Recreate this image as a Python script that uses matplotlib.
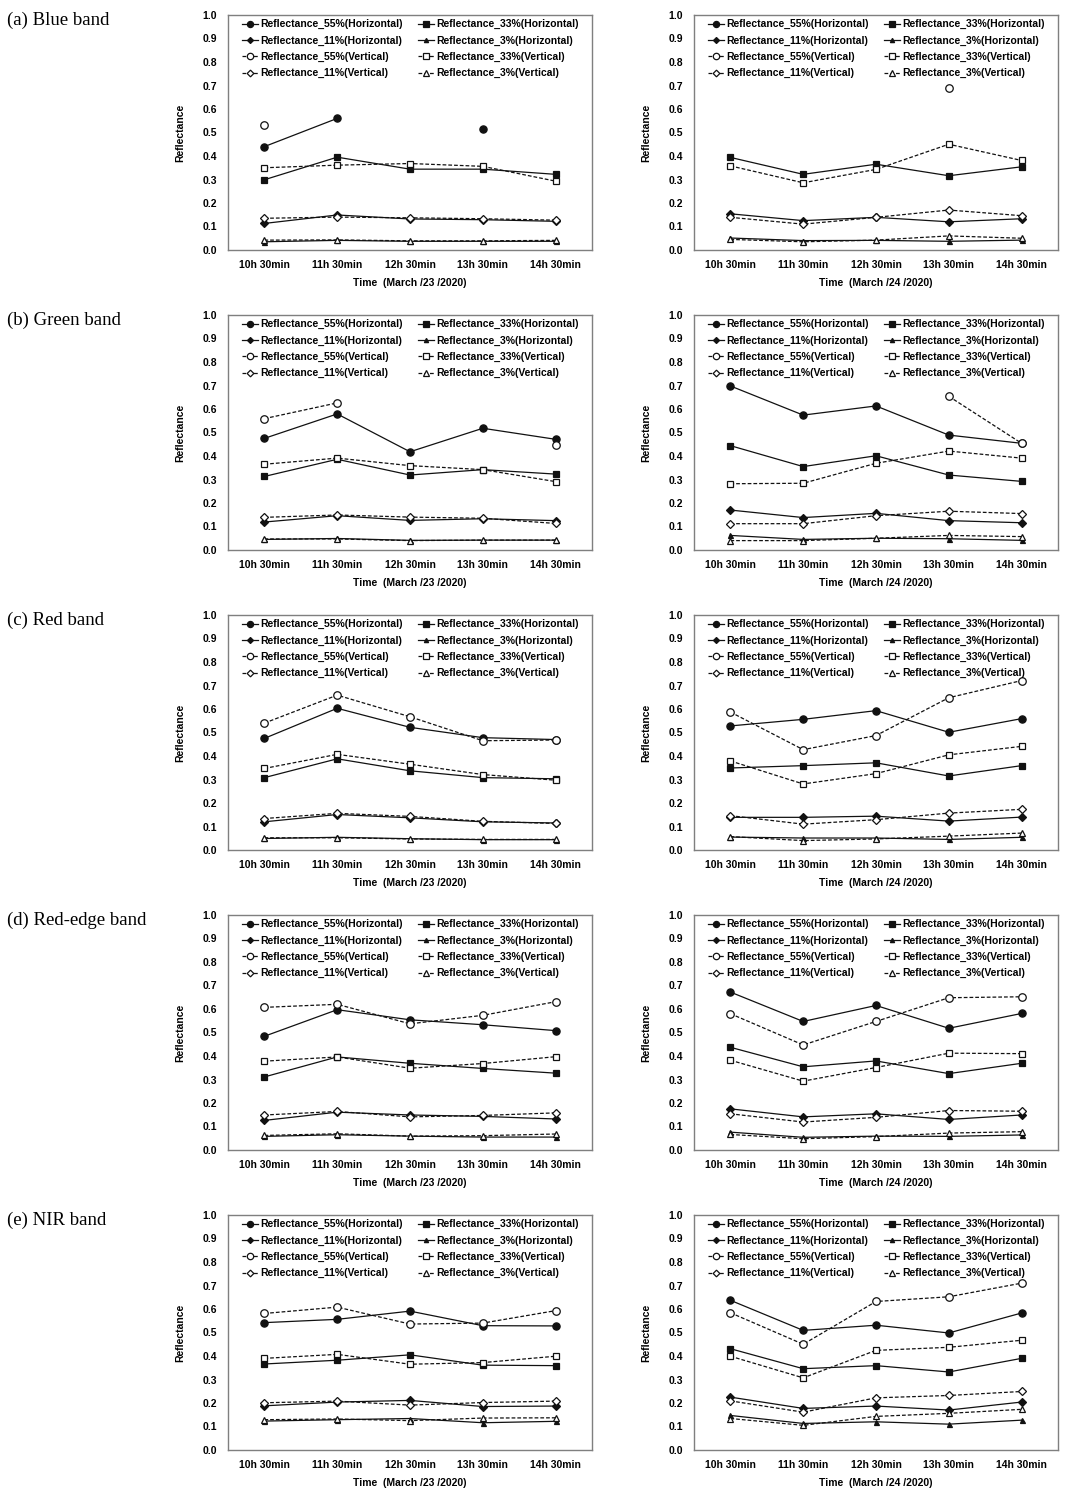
import numpy as np
import matplotlib
matplotlib.use('Agg')
import matplotlib.pyplot as plt

nan = np.nan
W, H = 1068, 1496

times = ['10h 30min', '11h 30min', '12h 30min', '13h 30min', '14h 30min']
date_labels = ['Time  (March /23 /2020)', 'Time  (March /24 /2020)']
band_labels = ['(a) Blue band', '(b) Green band', '(c) Red band',
               '(d) Red-edge band', '(e) NIR band']
series = ['Reflectance_55%(Horizontal)', 'Reflectance_33%(Horizontal)',
          'Reflectance_11%(Horizontal)', 'Reflectance_3%(Horizontal)',
          'Reflectance_55%(Vertical)', 'Reflectance_33%(Vertical)',
          'Reflectance_11%(Vertical)', 'Reflectance_3%(Vertical)']

# row order: 55H, 33H, 11H, 3H, 55V, 33V, 11V, 3V   (nan = no measurement)
blue_0323 = [
    [0.440, 0.560, nan, 0.514, nan],
    [0.299, 0.395, 0.344, 0.344, 0.322],
    [0.113, 0.149, 0.132, 0.129, 0.122],
    [0.035, 0.041, 0.037, 0.037, 0.037],
    [0.533, nan, nan, nan, nan],
    [0.350, 0.361, 0.368, 0.356, 0.293],
    [0.135, 0.140, 0.137, 0.133, 0.127],
    [0.042, 0.043, 0.039, 0.039, 0.041],
]
blue_0324 = [
    [nan, nan, nan, nan, nan],
    [0.394, 0.322, 0.365, 0.316, 0.354],
    [0.154, 0.125, 0.139, 0.120, 0.133],
    [0.051, 0.040, 0.041, 0.037, 0.042],
    [nan, nan, nan, 0.691, nan],
    [0.358, 0.286, 0.343, 0.450, 0.381],
    [0.139, 0.110, 0.139, 0.170, 0.146],
    [0.045, 0.035, 0.042, 0.060, 0.050],
]
green_0323 = [
    [0.475, 0.579, 0.418, 0.518, 0.471],
    [0.313, 0.386, 0.319, 0.342, 0.323],
    [0.119, 0.146, 0.126, 0.133, 0.125],
    [0.045, 0.049, 0.041, 0.042, 0.042],
    [0.559, 0.626, nan, nan, 0.445],
    [0.365, 0.391, 0.359, 0.342, 0.291],
    [0.139, 0.149, 0.140, 0.135, 0.113],
    [0.047, 0.047, 0.040, 0.042, 0.042],
]
green_0324 = [
    [0.698, 0.574, 0.613, 0.489, 0.454],
    [0.444, 0.355, 0.401, 0.319, 0.292],
    [0.170, 0.138, 0.156, 0.125, 0.116],
    [0.062, 0.045, 0.050, 0.048, 0.041],
    [nan, nan, nan, 0.654, 0.454],
    [0.282, 0.284, 0.369, 0.421, 0.391],
    [0.112, 0.112, 0.146, 0.165, 0.155],
    [0.040, 0.040, 0.050, 0.062, 0.057],
]
red_0323 = [
    [0.475, 0.603, 0.522, 0.478, 0.470],
    [0.308, 0.388, 0.337, 0.308, 0.303],
    [0.120, 0.151, 0.137, 0.120, 0.115],
    [0.049, 0.054, 0.048, 0.044, 0.044],
    [0.540, 0.659, 0.567, 0.465, 0.468],
    [0.347, 0.407, 0.365, 0.321, 0.297],
    [0.134, 0.156, 0.143, 0.122, 0.113],
    [0.052, 0.052, 0.047, 0.045, 0.045],
]
red_0324 = [
    [0.528, 0.556, 0.593, 0.501, 0.559],
    [0.349, 0.359, 0.371, 0.315, 0.359],
    [0.139, 0.139, 0.144, 0.123, 0.140],
    [0.055, 0.051, 0.051, 0.045, 0.054],
    [0.587, 0.427, 0.487, 0.648, 0.721],
    [0.379, 0.281, 0.325, 0.405, 0.441],
    [0.146, 0.110, 0.129, 0.157, 0.173],
    [0.057, 0.040, 0.047, 0.059, 0.072],
]
rededge_0323 = [
    [0.484, 0.597, 0.554, 0.533, 0.508],
    [0.311, 0.396, 0.369, 0.347, 0.327],
    [0.126, 0.161, 0.149, 0.143, 0.132],
    [0.058, 0.065, 0.059, 0.055, 0.055],
    [0.607, 0.620, 0.537, 0.573, 0.631],
    [0.378, 0.396, 0.348, 0.368, 0.397],
    [0.149, 0.164, 0.141, 0.147, 0.158],
    [0.062, 0.069, 0.059, 0.061, 0.068],
]
rededge_0324 = [
    [0.672, 0.547, 0.615, 0.518, 0.581],
    [0.437, 0.354, 0.379, 0.325, 0.369],
    [0.175, 0.141, 0.154, 0.130, 0.149],
    [0.076, 0.054, 0.059, 0.058, 0.064],
    [0.580, 0.447, 0.547, 0.648, 0.652],
    [0.382, 0.293, 0.351, 0.412, 0.410],
    [0.154, 0.119, 0.139, 0.168, 0.165],
    [0.066, 0.048, 0.057, 0.072, 0.078],
]
nir_0323 = [
    [0.542, 0.556, 0.591, 0.529, 0.528],
    [0.366, 0.382, 0.405, 0.361, 0.359],
    [0.188, 0.204, 0.211, 0.185, 0.187],
    [0.123, 0.129, 0.134, 0.116, 0.122],
    [0.581, 0.608, 0.536, 0.540, 0.593],
    [0.390, 0.407, 0.365, 0.372, 0.399],
    [0.201, 0.208, 0.191, 0.202, 0.208],
    [0.129, 0.132, 0.125, 0.136, 0.137],
]
nir_0324 = [
    [0.637, 0.509, 0.531, 0.498, 0.583],
    [0.431, 0.346, 0.359, 0.332, 0.390],
    [0.225, 0.177, 0.187, 0.170, 0.204],
    [0.147, 0.113, 0.120, 0.110, 0.127],
    [0.584, 0.450, 0.632, 0.652, 0.710],
    [0.399, 0.307, 0.424, 0.437, 0.467],
    [0.209, 0.161, 0.222, 0.232, 0.249],
    [0.134, 0.105, 0.143, 0.156, 0.173],
]

panels = [(blue_0323, blue_0324), (green_0323, green_0324), (red_0323, red_0324),
          (rededge_0323, rededge_0324), (nir_0323, nir_0324)]

markers = ['o', 's', 'D', '^', 'o', 's', 'D', '^']
msizes = [5.2, 4.8, 3.6, 3.6, 5.4, 5.0, 4.0, 4.6]
SANS = 'Liberation Sans'
FS = 7.5

fig = plt.figure(figsize=(W / 100, H / 100), dpi=100)

for r, (d23, d24) in enumerate(panels):
    top = 15 + 300 * r
    fig.text(7 / W, 1 - (20 + 300 * r) / H, band_labels[r], family='Liberation Serif',
             fontsize=13.5, ha='left', va='center')
    for c, data in enumerate((d23, d24)):
        left = 228 if c == 0 else 694
        ax = fig.add_axes([left / W, 1 - (top + 235) / H, 364 / W, 235 / H])
        x = np.arange(len(times))
        handles = []
        for i, name in enumerate(series):
            vert = i >= 4
            h, = ax.plot(x, data[i], color='#111111', lw=0.9,
                         ls=(0, (3, 1.6)) if vert else '-',
                         marker=markers[i], ms=msizes[i], mew=0.9,
                         mfc='white' if vert else '#111111', mec='#111111',
                         label=name, zorder=3)
            handles.append(h)
        ax.set_xlim(-0.5, 4.5)
        ax.set_ylim(0, 1.0)
        ax.set_yticks(np.arange(0, 1.01, 0.1))
        ax.set_yticklabels([f'{v:.1f}' for v in np.arange(0, 1.01, 0.1)])
        ax.set_xticks(x)
        ax.set_xticklabels(times)
        ax.tick_params(length=0, labelsize=FS)
        ax.tick_params(axis='y', pad=8)
        ax.tick_params(axis='x', pad=7)
        for lab in ax.get_xticklabels() + ax.get_yticklabels():
            lab.set_fontweight('bold')
            lab.set_family(SANS)
        for sp in ax.spines.values():
            sp.set_color('#7f7f7f')
            sp.set_linewidth(1.0)
        ax.set_ylabel('Reflectance', fontsize=FS, fontweight='bold', family=SANS)
        ax.yaxis.set_label_coords(-0.118, 0.5)
        ax.set_xlabel(date_labels[c], fontsize=FS, fontweight='bold', family=SANS)
        ax.xaxis.set_label_coords(0.5, -0.118)
        order = [0, 2, 4, 6, 1, 3, 5, 7]
        ax.legend([handles[k] for k in order], [series[k] for k in order],
                  ncol=2, loc='upper left', bbox_to_anchor=(0.038, 0.982),
                  frameon=False, borderpad=0, borderaxespad=0,
                  handlelength=1.6, handletextpad=0.15, columnspacing=1.45,
                  labelspacing=0.6, markerscale=0.85,
                  prop={'family': SANS, 'weight': 'bold', 'size': FS})

plt.savefig('out.png', dpi=100)
